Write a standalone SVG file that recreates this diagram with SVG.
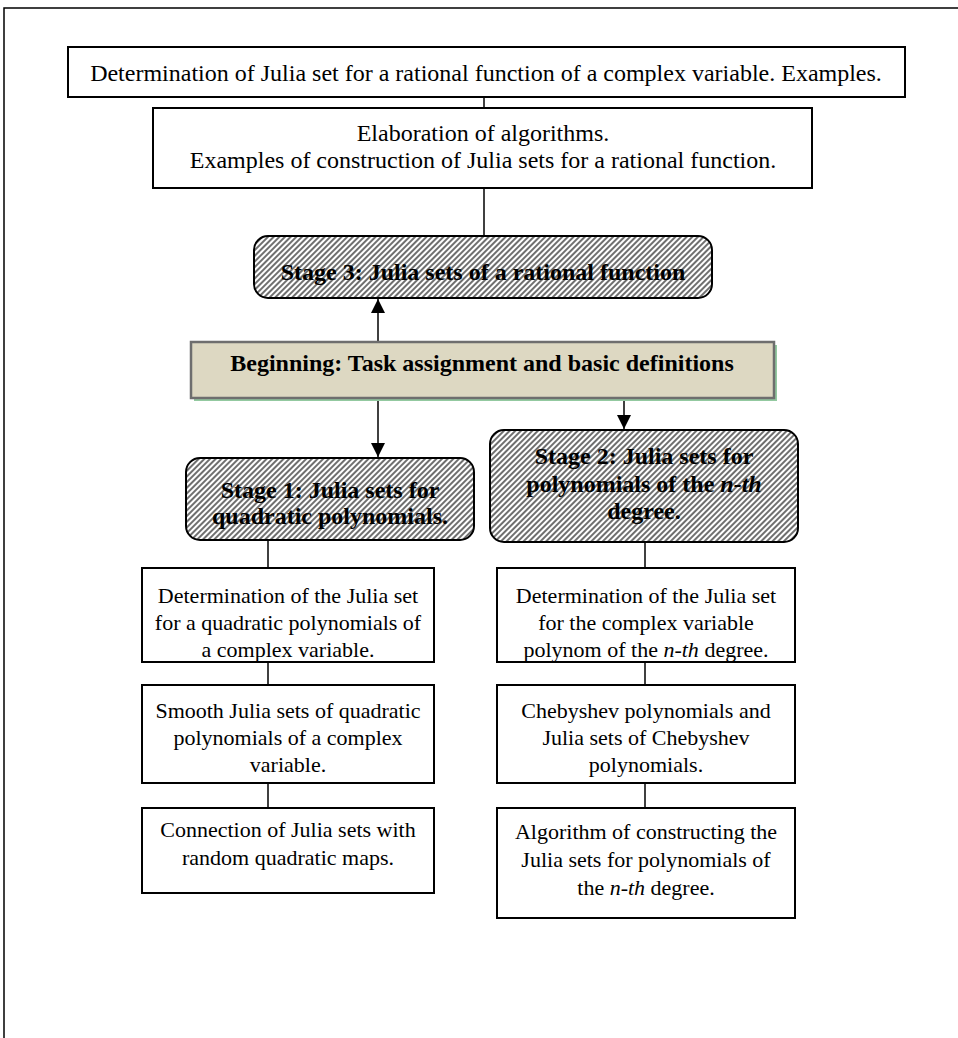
<svg xmlns="http://www.w3.org/2000/svg" width="958" height="1038" viewBox="0 0 958 1038">
<style>
.box{fill:#fff;stroke:#000;stroke-width:2}
.stage{fill:url(#hatch);stroke:#000;stroke-width:2}
.t{font-family:"Liberation Serif","Times New Roman",serif;font-size:22px;fill:#000;text-anchor:middle}
.lg{font-size:24px}
.b{font-weight:bold;font-size:24px}
.con line{stroke:#000;stroke-width:1.5}
</style>
<defs>
<pattern id="hatch" width="4" height="4" patternUnits="userSpaceOnUse" patternTransform="rotate(45)">
<rect width="4" height="4" fill="#fff"/>
<line x1="1" y1="0" x2="1" y2="4" stroke="#222" stroke-width="1.3"/>
</pattern>
<marker id="arr" viewBox="0 0 10 10" refX="10" refY="5" markerWidth="14" markerHeight="14" markerUnits="userSpaceOnUse" orient="auto">
<path d="M0,0 L10,5 L0,10 z" fill="#000"/>
</marker>
</defs>
<path d="M4,1038 V8 H958" fill="none" stroke="#000" stroke-width="1.5"/>
<g id="connectors" class="con">
<line x1="484" y1="97" x2="484" y2="108"/>
<line x1="484" y1="188" x2="484" y2="236"/>
<line x1="378" y1="342" x2="378" y2="299" marker-end="url(#arr)"/>
<line x1="378" y1="401" x2="378" y2="457" marker-end="url(#arr)"/>
<line x1="624" y1="401" x2="624" y2="429" marker-end="url(#arr)"/>
<line x1="268" y1="540" x2="268" y2="568"/>
<line x1="645" y1="542" x2="645" y2="568"/>
<line x1="268" y1="662" x2="268" y2="685"/>
<line x1="645" y1="662" x2="645" y2="685"/>
<line x1="268" y1="783" x2="268" y2="808"/>
<line x1="645" y1="783" x2="645" y2="808"/>
</g>
<g id="top">
<rect class="box" x="68" y="47" width="837" height="50"/>
<text class="t lg" x="486" y="81">Determination of Julia set for a rational function of a complex variable. Examples.</text>
</g>
<g id="algorithms">
<rect class="box" x="153" y="108" width="659" height="80"/>
<text class="t lg" x="483" y="141">Elaboration of algorithms.</text>
<text class="t lg" x="483" y="168">Examples of construction of Julia sets for a rational function.</text>
</g>
<g id="stage3">
<rect class="stage" x="254" y="236" width="458" height="62" rx="14"/>
<text class="t b" x="483" y="280">Stage 3: Julia sets of a rational function</text>
</g>
<g id="beginning">
<rect x="194" y="345" width="583" height="56" fill="#93c9a0"/>
<rect x="191" y="342" width="583" height="56" fill="#ddd8c2" stroke="#6e6e6e" stroke-width="2.5"/>
<text class="t b" x="482" y="371">Beginning: Task assignment and basic definitions</text>
</g>
<g id="stage1">
<rect class="stage" x="186" y="458" width="288" height="82" rx="14"/>
<text class="t b" x="330" y="498">Stage 1: Julia sets for</text>
<text class="t b" x="330" y="524">quadratic polynomials.</text>
</g>
<g id="stage2">
<rect class="stage" x="490" y="430" width="308" height="112" rx="14"/>
<text class="t b" x="644" y="464">Stage 2: Julia sets for</text>
<text class="t b" x="644" y="492">polynomials of the <tspan font-style="italic">n-th</tspan></text>
<text class="t b" x="644" y="519">degree.</text>
</g>
<g id="l1">
<rect class="box" x="142" y="568" width="292" height="94"/>
<text class="t" x="288" y="603">Determination of the Julia set</text>
<text class="t" x="288" y="630">for a quadratic polynomials of</text>
<text class="t" x="288" y="657">a complex variable.</text>
</g>
<g id="l2">
<rect class="box" x="142" y="685" width="292" height="98"/>
<text class="t" x="288" y="718">Smooth Julia sets of quadratic</text>
<text class="t" x="288" y="745">polynomials of a complex</text>
<text class="t" x="288" y="772">variable.</text>
</g>
<g id="l3">
<rect class="box" x="142" y="808" width="292" height="85"/>
<text class="t" x="288" y="837">Connection of Julia sets with</text>
<text class="t" x="288" y="865">random quadratic maps.</text>
</g>
<g id="r1">
<rect class="box" x="497" y="568" width="298" height="94"/>
<text class="t" x="646" y="603">Determination of the Julia set</text>
<text class="t" x="646" y="630">for the complex variable</text>
<text class="t" x="646" y="657">polynom of the <tspan font-style="italic">n-th</tspan> degree.</text>
</g>
<g id="r2">
<rect class="box" x="497" y="685" width="298" height="98"/>
<text class="t" x="646" y="718">Chebyshev polynomials and</text>
<text class="t" x="646" y="745">Julia sets of Chebyshev</text>
<text class="t" x="646" y="772">polynomials.</text>
</g>
<g id="r3">
<rect class="box" x="497" y="808" width="298" height="110"/>
<text class="t" x="646" y="839">Algorithm of constructing the</text>
<text class="t" x="646" y="867">Julia sets for polynomials of</text>
<text class="t" x="646" y="895">the <tspan font-style="italic">n-th</tspan> degree.</text>
</g>
</svg>
